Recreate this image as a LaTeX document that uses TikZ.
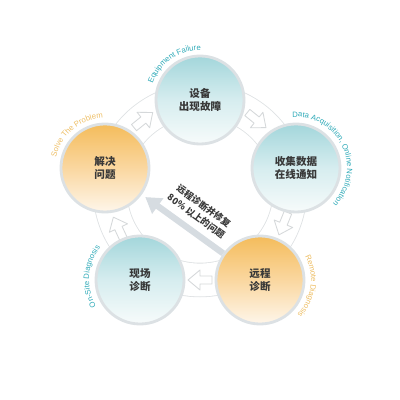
\documentclass[tikz,border=0pt]{standalone}
\usepackage{fontspec}
\setsansfont{Liberation Sans}
\newfontfamily\cjk{Noto Sans CJK SC}
\usetikzlibrary{arrows.meta,decorations.text,calc}

\definecolor{tealtop}{HTML}{A3D6DB}
\definecolor{tealmid}{HTML}{D6EDEF}
\definecolor{tealbot}{HTML}{F7FBFB}
\definecolor{orangetop}{HTML}{F4BC5B}
\definecolor{orangemid}{HTML}{FAD7A0}
\definecolor{orangebot}{HTML}{FEF6EA}
\definecolor{rimgray}{HTML}{DCE1E4}
\definecolor{ringgray}{HTML}{DFE2E4}
\definecolor{labelteal}{HTML}{2FAAB8}
\definecolor{labelorange}{HTML}{EDBD62}
\definecolor{fixgray}{HTML}{D6DCE1}
\definecolor{inkgray}{HTML}{383838}

\newcommand\labelfont{\sffamily\fontsize{5.5}{6}\selectfont}

\tikzset{
  stage/.style={circle, minimum size=2.2cm, inner sep=0pt, draw=rimgray, line width=2pt,
    align=center, text=inkgray, font=\cjk\bfseries\fontsize{7.5}{9.5}\selectfont},
  tealstage/.style={stage, top color=tealtop, bottom color=tealbot, middle color=tealmid},
  orangestage/.style={stage, top color=orangetop, bottom color=orangebot, middle color=orangemid},
  ringband/.style={draw=ringgray, line width=0.6pt, double=white, double distance=0.82cm},
  ringarrow/.style={draw=ringgray!90!gray, fill=white, line width=0.6pt, line join=round},
  fixarrow/.style={draw=fixgray, line width=4.5pt, -{Triangle[width=13pt,length=11pt]}, shorten >=3pt},
  fixnote/.style={align=center, text=inkgray, font=\cjk\bfseries\fontsize{6.5}{9}\selectfont},
  arclabel/.style 2 args={decorate, decoration={text along path, text align=center,
    text color=#1, text={|\labelfont|#2}}}
}

\begin{document}
\begin{tikzpicture}[x=0.025cm, y=0.025cm]
  \useasboundingbox (0,0) rectangle (400,400);

  % ring with the clockwise arrows
  \coordinate (hub) at (200,210);
  \draw[ringband] (hub) circle (90);
  \foreach \ang in {51,-22,-90,-155,129}
    \draw[ringarrow, shift={(hub)}, rotate=\ang, shift={(90,0)}, rotate=-90]
      (-12,-4) -- (0,-4) -- (0,-10) -- (12,0) -- (0,10) -- (0,4) -- (-12,4) -- cycle;

  % five stages
  \node[tealstage] (fault) at (200,300) {设备\\出现故障};
  \node[tealstage] (collect) at (296,232) {收集数据\\在线通知};
  \node[orangestage] (remote) at (260,120) {远程\\诊断};
  \node[tealstage] (onsite) at (140,120) {现场\\诊断};
  \node[orangestage] (solve) at (105,232) {解决\\问题};

  % shortcut from remote diagnosis
  \draw[fixarrow] (remote) -- (solve);
  \node[fixnote, rotate=-36] (fixtext) at (200,189) {远程诊断并修复\\80\% 以上的问题};

  % curved english labels
  \path[arclabel={labelteal}{Equipment Failure}]
    ($(fault)+(175:50)$) arc[start angle=175, end angle=75, radius=50];
  \path[arclabel={labelteal}{Data Acquisition, Online Notification}]
    ($(collect)+(112:51)$) arc[start angle=112, end angle=-62, radius=51];
  \path[arclabel={labelorange}{Remote Diagnosis}]
    ($(remote)+(40:51)$) arc[start angle=40, end angle=-55, radius=51];
  \path[arclabel={labelteal}{On-Site Diagnosis}]
    ($(onsite)+(225:51)$) arc[start angle=225, end angle=127, radius=51];
  \path[arclabel={labelorange}{Solve The Problem}]
    ($(solve)+(175:50)$) arc[start angle=175, end angle=85, radius=50];
\end{tikzpicture}
\end{document}
